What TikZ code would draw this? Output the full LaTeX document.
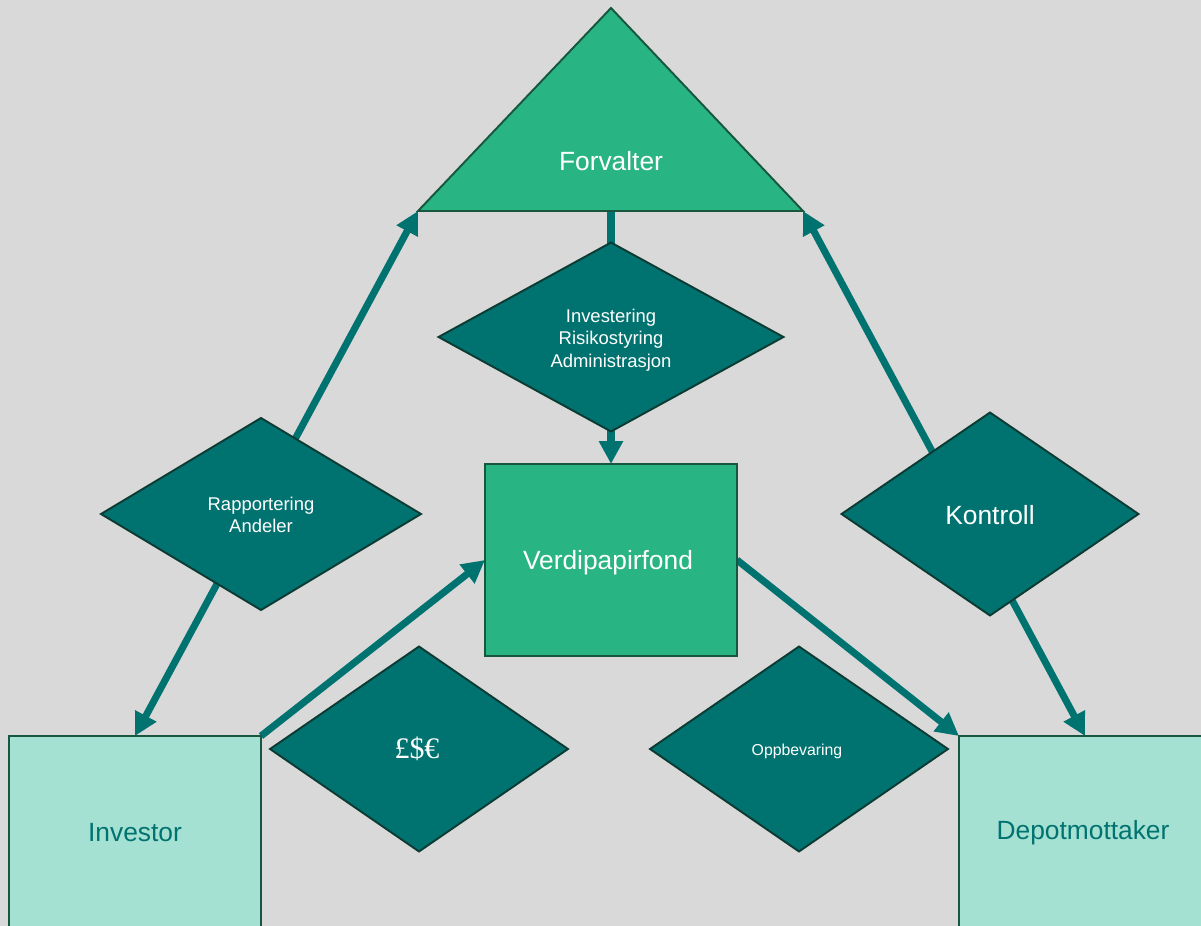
\documentclass[tikz,border=0pt]{standalone}
\usepackage{fontspec}
\setmainfont{Liberation Sans}
\newfontfamily\symfont{Liberation Serif}
\usetikzlibrary{shapes.geometric,arrows.meta}
\definecolor{bg}{HTML}{D9D9D9}
\definecolor{teal}{HTML}{007370}
\definecolor{grn}{HTML}{29B484}
\definecolor{lgrn}{HTML}{A5E1D3}
\definecolor{dborder}{HTML}{0D3B33}
\definecolor{rborder}{HTML}{17563F}
\tikzset{
  conn/.style={draw=teal, line width=4pt, arrows={-Triangle[length=13pt,width=13pt]}},
  connboth/.style={draw=teal, line width=4pt, arrows={Triangle[length=13pt,width=13pt]-Triangle[length=13pt,width=13pt]}},
  dia/.style={diamond, aspect=1.8, draw=dborder, line width=1.1pt, fill=teal, text=white, inner sep=0pt, outer sep=0pt, align=center},
  darkbox/.style={rectangle, draw=rborder, line width=1.1pt, fill=grn, inner sep=0pt, outer sep=0pt, minimum width=5.04cm, minimum height=3.84cm},
  lightbox/.style={rectangle, draw=rborder, line width=1.1pt, fill=lgrn, inner sep=0pt, outer sep=0pt, minimum width=5.04cm, minimum height=3.84cm},
  bigtext/.style={font=\fontsize{15pt}{18pt}\selectfont, inner sep=0pt},
  smalltext/.style={font=\fontsize{10.5pt}{12.8pt}\selectfont, inner sep=0pt, text=white, align=center},
  tri/.style={draw=rborder, line width=1.1pt, fill=grn},
}
\begin{document}
\begin{tikzpicture}[x=0.02cm, y=-0.02cm]
\useasboundingbox (0,0) rectangle (1201,926);
\fill[bg] (0,0) rectangle (1201,926);
\clip (0,0) rectangle (1201,926);
% triangle corners
\coordinate (fA) at (611,8);
\coordinate (fL) at (418,211);
\coordinate (fR) at (803,211);
\coordinate (fB) at (611,211);
% box anchors
\coordinate (verdiN) at (611,464);
\coordinate (verdiW) at (485,560);
\coordinate (verdiE) at (737,560);
\coordinate (invN) at (135,736);
\coordinate (invNE) at (261,736);
\coordinate (depN) at (1085,736);
\coordinate (depNW) at (959,736);
% connectors
\draw[connboth] (fL) -- (invN);
\draw[connboth] (fR) -- (depN);
\draw[conn] (fB) -- (verdiN);
\draw[conn] (invNE) -- (verdiW);
\draw[conn] (verdiE) -- (depNW);
% triangle
\draw[tri] (fA) -- (fL) -- (fR) -- cycle;
\node[bigtext, text=white] (forv) at (611,161) {Forvalter};
% boxes
\node[darkbox] (verdi) at (611,560) {};
\node[bigtext, text=white] (verdiT) at (608,563) {Verdipapirfond};
\node[lightbox] (investor) at (135,832) {};
\node[bigtext, text=teal] (investorT) at (135,833) {Investor};
\node[lightbox] (depot) at (1085,832) {};
\node[bigtext, text=teal] (depotT) at (1083,833) {Depotmottaker};
% diamonds
\node[dia, minimum width=6.9cm, minimum height=3.78cm] (dinv) at (611,337) {};
\node[smalltext] (dinvT) at (611,340) {Investering\\Risikostyring\\Administrasjon};
\node[dia, minimum width=6.4cm, minimum height=3.84cm] (drap) at (261,514) {};
\node[smalltext] (drapT) at (261,515) {Rapportering\\Andeler};
\node[dia, minimum width=5.94cm, minimum height=4.06cm] (dkon) at (990,514) {};
\node[bigtext, text=white] (dkonT) at (990,515) {Kontroll};
\node[dia, minimum width=5.96cm, minimum height=4.1cm] (dmon) at (419,749) {};
\node[text=white, font=\symfont\fontsize{17pt}{20pt}\selectfont, inner sep=0pt] (dmonT) at (417,749) {£\$€};
\node[dia, minimum width=5.96cm, minimum height=4.1cm] (dopp) at (799,749) {};
\node[text=white, font=\fontsize{9pt}{11pt}\selectfont, inner sep=0pt] (doppT) at (797,751) {Oppbevaring};
\end{tikzpicture}
\end{document}
